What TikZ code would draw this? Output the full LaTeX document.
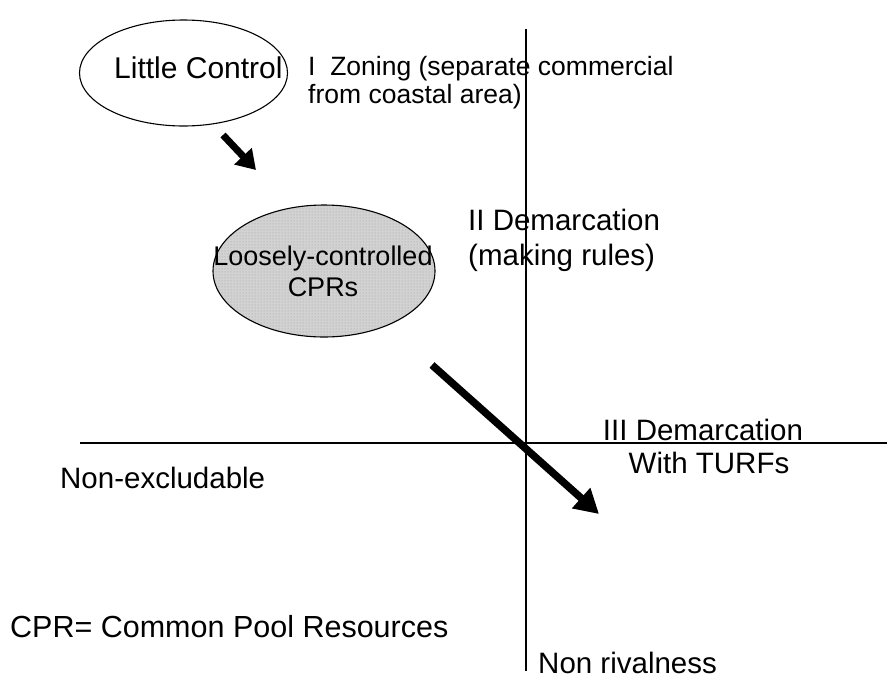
\documentclass[tikz,border=0pt]{standalone}
\usepackage{fontspec}
\setmainfont{Liberation Sans}
\usetikzlibrary{arrows.meta,patterns}
\begin{document}
\begin{tikzpicture}[x=1pt,y=-1pt,
  axis/.style={line width=1.3pt},
  oval/.style={draw,line width=1.1pt},
  label/.style={inner sep=0pt,anchor=base west,font=\fontsize{29.5}{34}\selectfont},
  smalllabel/.style={label,font=\fontsize{26.5}{30}\selectfont},
  move/.style={line width=7.5pt,-{Triangle[length=24pt,width=26pt]}},
  movesmall/.style={line width=7pt,-{Triangle[length=19pt,width=23pt]}}]
\useasboundingbox (0,0) rectangle (889,686);

% axes
\coordinate (vtop) at (526,29);
\coordinate (vbot) at (526,671);
\coordinate (hleft) at (80,443);
\coordinate (hright) at (887,443);
\draw[axis] (vtop) -- (vbot);
\draw[axis] (hleft) -- (hright);

% ovals
\draw[oval] (183.5,73) ellipse [x radius=104, y radius=53];
\fill[gray!35] (324,271) ellipse [x radius=111, y radius=66];
\fill[pattern=dots,pattern color=gray!75] (324,271) ellipse [x radius=111, y radius=66];
\draw[oval] (324,271) ellipse [x radius=111, y radius=66];

% texts
\node[label,font=\fontsize{30}{34}\selectfont] (lc) at (114,78) {Little Control};
\node[label,font=\fontsize{27}{30}\selectfont,anchor=base] (lcp) at (323,265) {Loosely-controlled};
\node[label,font=\fontsize{27}{30}\selectfont,anchor=base] (cprs) at (323,296) {CPRs};
\node[smalllabel] (z1) at (308,75) {I\ \ Zoning (separate commercial};
\node[smalllabel] (z2) at (308,103) {from coastal area)};
\node[label] (d1) at (468,230) {II Demarcation};
\node[label] (d2) at (468,265) {(making rules)};
\node[label,anchor=base] (t1) at (703,440) {III Demarcation};
\node[label,anchor=base] (t2) at (709,473) {With TURFs};
\node[label] (nx) at (60,488) {Non-excludable};
\node[label,font=\fontsize{30.5}{34}\selectfont] (cpr) at (10,637) {CPR= Common Pool Resources};
\node[label] (nr) at (538,673) {Non rivalness};

% movement arrows
\coordinate (a1s) at (223,135);
\coordinate (a1e) at (256,170);
\draw[movesmall] (a1s) -- (a1e);
\coordinate (a2s) at (432,365);
\coordinate (a2e) at (599,514);
\draw[move] (a2s) -- (a2e);
\end{tikzpicture}
\end{document}
